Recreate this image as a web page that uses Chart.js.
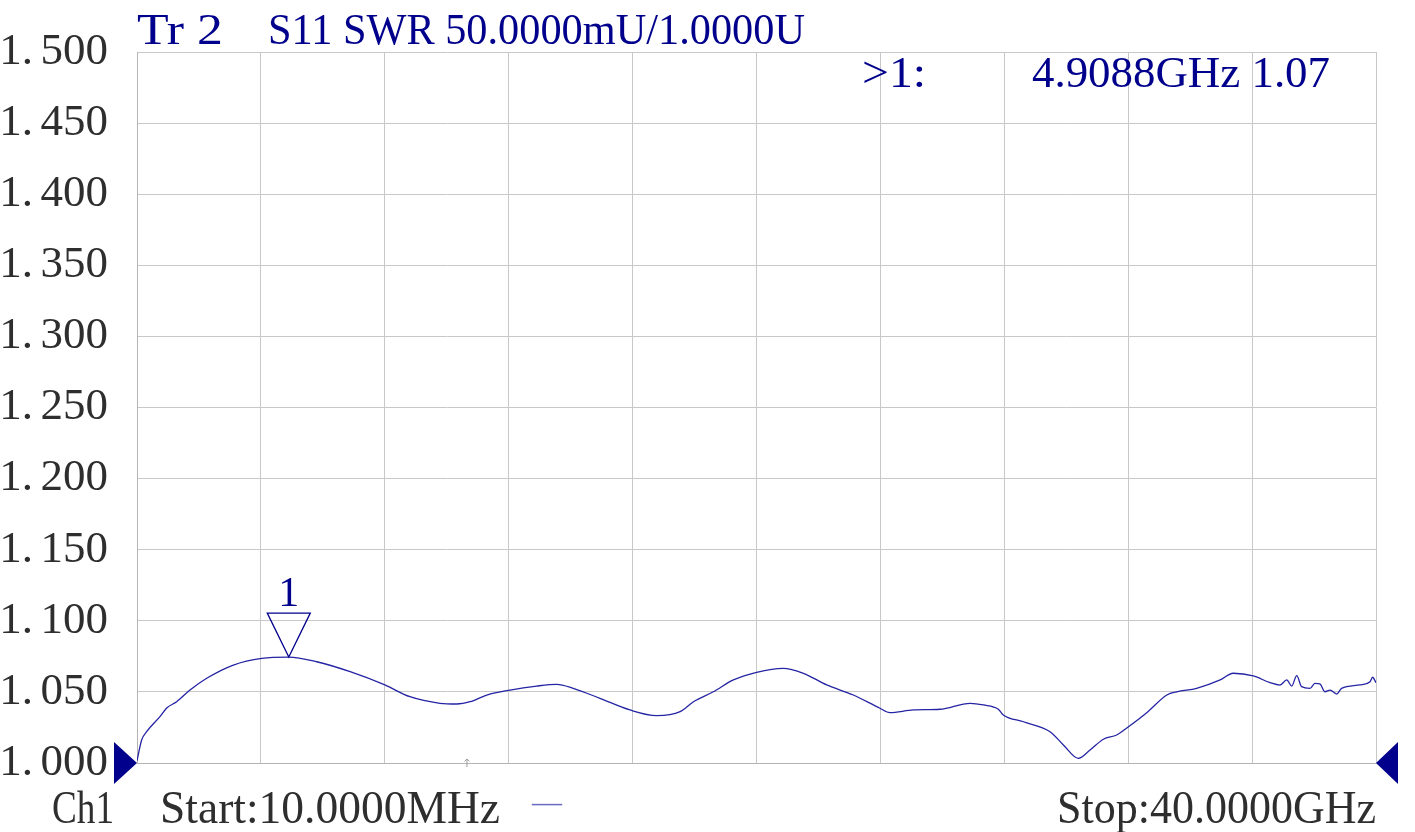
<!DOCTYPE html>
<html>
<head>
<meta charset="utf-8">
<script src="https://cdn.jsdelivr.net/npm/chart.js@4.4.1/dist/chart.umd.min.js"></script>
<style>
  html, body { margin: 0; padding: 0; background: #fff; overflow: hidden; }
  #wrap { position: relative; width: 1415px; height: 832px; }
  #c { position: absolute; left: 0; top: 0; }
  .lbl { position: absolute; white-space: pre; font-family: "Liberation Serif", serif; line-height: 1; transform-origin: 0 0; }
</style>
</head>
<body>
<div id="wrap">
  <canvas id="c" width="1415" height="832"></canvas>
</div>
<script>
// sweep: 10 MHz .. 40 GHz, SWR 1.000 .. 1.500 (50 mU/div)
const startGHz = 0.01;
const stopGHz = 40;
const swrMin = 1.0;
const swrMax = 1.5;
const swrStep = 0.05;

// trace
const freqGHz = [0.01,0.16,0.32,0.75,0.97,1.29,1.72,2.26,3.12,4.04,4.91,5.81,6.89,8.01,8.82,9.79,10.33,10.76,11.30,12.05,12.91,13.56,14.09,14.95,15.92,16.78,17.54,17.97,18.61,19.26,20.01,20.87,21.52,22.27,23.13,23.99,24.31,25.07,25.93,26.90,27.33,27.81,27.97,28.62,29.48,29.91,30.39,30.77,31.20,31.63,32.01,32.60,33.25,33.57,34.21,34.97,35.39,36.04,36.58,36.90,37.12,37.28,37.44,37.60,37.87,38.03,38.19,38.35,38.52,38.73,38.89,39.48,39.81,39.89,40.00];
const swr = [1.0016,1.0162,1.0220,1.0326,1.0387,1.0431,1.0513,1.0596,1.0689,1.0736,1.0745,1.0712,1.0642,1.0549,1.0466,1.0420,1.0415,1.0431,1.0478,1.0513,1.0541,1.0553,1.0525,1.0455,1.0373,1.0333,1.0361,1.0431,1.0501,1.0584,1.0638,1.0666,1.0631,1.0549,1.0478,1.0385,1.0354,1.0373,1.0378,1.0420,1.0408,1.0378,1.0338,1.0290,1.0220,1.0127,1.0033,1.0091,1.0167,1.0197,1.0255,1.0354,1.0478,1.0501,1.0525,1.0584,1.0631,1.0612,1.0565,1.0548,1.0584,1.0541,1.0614,1.0537,1.0525,1.0560,1.0556,1.0501,1.0513,1.0485,1.0525,1.0549,1.0572,1.0603,1.0565];

// marker 1
const markerFreq = 4.9088;
const markerSwr = 1.0745;
const refLevel = 1.0;
const sweepPosGHz = 10.66;

const navy = '#00008c';
const traceCol = '#2424a4';
const gridCol = '#c8c8c8';
const txtCol = '#2e2e2e';

const xDivs = 10;

const markerPlugin = {
  id: 'markers',
  afterDatasetsDraw(chart) {
    const ctx = chart.ctx;
    const xs = chart.scales.x, ys = chart.scales.y;
    const a = chart.chartArea;
    ctx.save();
    // reference level triangles
    const ry = ys.getPixelForValue(refLevel);
    ctx.fillStyle = navy;
    ctx.beginPath();
    ctx.moveTo(a.left - 23, ry - 21);
    ctx.lineTo(a.left, ry);
    ctx.lineTo(a.left - 23, ry + 21);
    ctx.closePath();
    ctx.fill();
    ctx.beginPath();
    ctx.moveTo(a.right + 22, ry - 21);
    ctx.lineTo(a.right, ry);
    ctx.lineTo(a.right + 22, ry + 21);
    ctx.closePath();
    ctx.fill();

    // marker 1 triangle
    const mx = xs.getPixelForValue(markerFreq);
    const my = ys.getPixelForValue(markerSwr);
    ctx.strokeStyle = navy;
    ctx.lineWidth = 1.3;
    ctx.beginPath();
    ctx.moveTo(mx, my);
    ctx.lineTo(mx - 21.5, my - 44);
    ctx.lineTo(mx + 21.5, my - 44);
    ctx.closePath();
    ctx.stroke();
    ctx.fillStyle = navy;
    ctx.font = '42px "Liberation Serif"';
    ctx.textAlign = 'center';
    ctx.textBaseline = 'alphabetic';
    ctx.fillText('1', mx, my - 51);

    // sweep position tick
    const sx = xs.getPixelForValue(sweepPosGHz);
    ctx.strokeStyle = '#9a9a9a';
    ctx.lineWidth = 1;
    ctx.beginPath();
    ctx.moveTo(sx, a.bottom - 4);
    ctx.lineTo(sx, a.bottom + 4);
    ctx.moveTo(sx - 2.5, a.bottom - 1.5);
    ctx.lineTo(sx, a.bottom - 4);
    ctx.lineTo(sx + 2.5, a.bottom - 1.5);
    ctx.stroke();
    ctx.restore();
  }
};

const chart = new Chart(document.getElementById('c'), {
  type: 'line',
  data: {
    datasets: [{
      data: freqGHz.map((f, i) => ({ x: f, y: swr[i] })),
      borderColor: traceCol,
      borderWidth: 1.3,
      pointRadius: 0,
      cubicInterpolationMode: 'monotone',
      fill: false
    }]
  },
  options: {
    responsive: false,
    animation: false,
    devicePixelRatio: 1,
    layout: { padding: { top: 52, right: 39, bottom: 69, left: 0 } },
    plugins: { legend: { display: false }, tooltip: { enabled: false } },
    scales: {
      x: {
        type: 'linear',
        min: startGHz,
        max: stopGHz,
        afterBuildTicks(scale) {
          const t = [];
          for (let i = 0; i <= xDivs; i++) t.push({ value: startGHz + i * (stopGHz - startGHz) / xDivs });
          scale.ticks = t;
        },
        afterFit(scale) { scale.height = 0; },
        ticks: { display: false },
        grid: { color: gridCol, lineWidth: 1, drawTicks: false },
        border: { color: '#b4b4b4' }
      },
      y: {
        min: swrMin,
        max: swrMax,
        afterFit(scale) { scale.width = 137; },
        ticks: {
          stepSize: swrStep,
          padding: 29,
          color: txtCol,
          font: { family: 'Liberation Serif', size: 45, lineHeight: 1 },
          callback: v => v.toFixed(3).replace('.', '.\u2006')
        },
        grid: { color: gridCol, lineWidth: 1, drawTicks: false },
        border: { color: '#b4b4b4' }
      }
    }
  },
  plugins: [markerPlugin]
});

// screen texts (x = left ink edge, w = ink width, base = baseline)
const texts = [
  { t: 'Tr 2', x: 137, w: 86, base: 45, size: 45, color: navy },
  { t: 'S11 SWR 50.0000mU/1.0000U', x: 268, w: 537, base: 45, size: 45, color: navy },
  { t: '>1:', x: 862, w: 64, base: 88, size: 44, color: navy },
  { t: markerFreq.toFixed(4) + 'GHz ' + markerSwr.toFixed(2), x: 1032, w: 298, base: 88, size: 45, color: navy },
  { t: 'Ch1', x: 52, w: 62, base: 824, size: 46, color: txtCol },
  { t: 'Start:' + (startGHz * 1000).toFixed(4) + 'MHz', x: 160, w: 340, base: 824, size: 46, color: txtCol },
  { t: '\u2014', x: 532, w: 30, base: 812, size: 30, color: '#6a6ac4' },
  { t: 'Stop:' + stopGHz.toFixed(4) + 'GHz', x: 1057, w: 319, base: 824, size: 46, color: txtCol }
];
const wrap = document.getElementById('wrap');
texts.forEach(o => {
  const s = document.createElement('span');
  s.className = 'lbl';
  s.textContent = o.t;
  s.style.fontSize = o.size + 'px';
  s.style.color = o.color;
  s.style.left = o.x + 'px';
  s.style.top = (o.base - 0.8375 * o.size) + 'px';
  wrap.appendChild(s);
  const nat = s.getBoundingClientRect().width;
  s.style.transform = 'scaleX(' + (o.w / nat) + ')';
});
</script>
</body>
</html>
